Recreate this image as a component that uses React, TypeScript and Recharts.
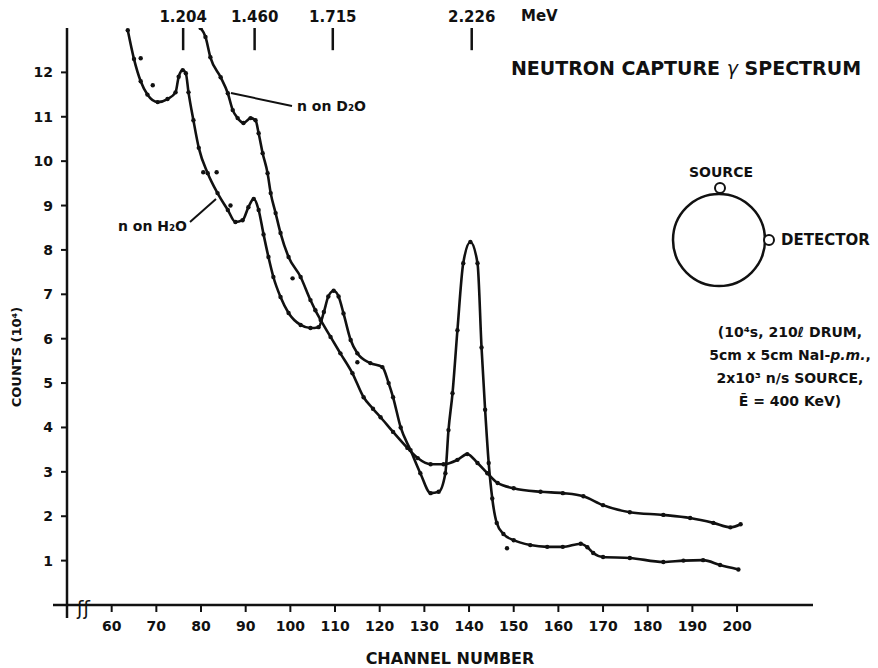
import React from "react";
import {
  ComposedChart,
  Line,
  Scatter,
  XAxis,
  YAxis,
  ReferenceLine,
  Customized,
} from "recharts";

// channel number / counts (x10^4)
const h2oChannel = [
  63.6, 65, 66.5, 68, 70.3, 72.5, 74.3, 75, 75.9, 76.6, 77.2, 78.3, 79.5, 81.5,
  83.7, 86, 87.7, 89.3, 90.6, 91.8, 92.9, 94, 95.1, 96.2, 97.8, 99.6, 102.3,
  104.5, 106.3, 107.5, 108.5, 109.7, 110.8, 111.9, 113.5, 115, 117.9, 120.6,
  122, 123, 124.7, 126.9, 129.1, 131.4, 133.2, 134.7, 135.4, 136.3, 137.4,
  138.7, 140.3, 141.9, 142.8, 143.6, 144.4, 145.2, 146.2, 147.7, 150, 153.7,
  157.5, 161, 165, 166.5, 167.8, 170, 176, 183.5, 188, 192.4, 196.2, 200.3,
];
const h2oCounts = [
  12.95, 12.3, 11.8, 11.5, 11.33, 11.4, 11.55, 11.9, 12.05, 11.98, 11.55, 10.92,
  10.3, 9.73, 9.28, 8.9, 8.63, 8.67, 8.96, 9.15, 8.9, 8.35, 7.84, 7.39, 6.94,
  6.58, 6.31, 6.24, 6.26, 6.6, 6.95, 7.08, 6.95, 6.57, 5.97, 5.67, 5.45, 5.36,
  5.0, 4.68, 4.0, 3.49, 2.97, 2.52, 2.55, 2.97, 3.94, 4.77, 6.19, 7.7, 8.18,
  7.7, 5.8, 4.4, 3.2, 2.4, 1.85, 1.6, 1.46, 1.35, 1.31, 1.31, 1.38, 1.3, 1.17,
  1.08, 1.06, 0.97, 1.0, 1.01, 0.9, 0.8,
];

const d2oChannel = [
  79.9, 81, 82.1, 84.4, 86, 87.1, 88.2, 89.5, 91.1, 92.2, 92.9, 93.8, 94.9,
  95.6, 96.7, 97.8, 99.6, 102.3, 104.5, 105.6, 106.8, 109, 111.2, 113.9, 116.4,
  118.5, 120.2, 123, 126.2, 128.5, 131.4, 134.3, 137.4, 139.6, 141.9, 144.1,
  146.4, 150, 156, 161, 165.6, 170, 176, 183.5, 189.5, 194.7, 198.5, 200.8,
];
const d2oCounts = [
  13.0, 12.8, 12.34, 11.89, 11.53, 11.15, 10.97, 10.86, 10.97, 10.92, 10.63,
  10.18, 9.73, 9.28, 8.83, 8.38, 7.84, 7.39, 6.87, 6.64, 6.42, 6.04, 5.67, 5.22,
  4.68, 4.42, 4.23, 3.9, 3.54, 3.31, 3.17, 3.17, 3.27, 3.4, 3.2, 2.97, 2.75,
  2.63, 2.55, 2.52, 2.45, 2.25, 2.09, 2.03, 1.96, 1.85, 1.75, 1.82,
];

// stray measured points lying off the drawn curves
const strayChannel = [66.5, 69.2, 80.5, 83.5, 86.6, 100.5, 115, 148.5];
const strayCounts = [12.32, 11.71, 9.75, 9.75, 9.0, 7.36, 5.47, 1.28];

const channelTicks = [60, 70, 80, 90, 100, 110, 120, 130, 140, 150, 160, 170, 180, 190, 200];
const countTicks = [1, 2, 3, 4, 5, 6, 7, 8, 9, 10, 11, 12];

const energyChannel = [76, 92, 109.5, 140.6];
const energyLabel = ["1.204", "1.460", "1.715", "2.226"];

const FONT = "DejaVu Sans";
const INK = "#111";

const h2oData = h2oChannel.map((ch, i) => ({ ch, counts: h2oCounts[i] }));
const d2oData = d2oChannel.map((ch, i) => ({ ch, counts: d2oCounts[i] }));
const strayData = strayChannel.map((ch, i) => ({ ch, counts: strayCounts[i] }));

const tickStyle = { fill: INK, fontSize: 14, fontWeight: 700, fontFamily: FONT };

const Annotations = () => (
  <g fontFamily={FONT} fontWeight={700} fill={INK}>
    {/* axis stubs past the origin and the break mark */}
    <line x1={53} y1={605} x2={67} y2={605} stroke={INK} strokeWidth={2.5} />
    <line x1={67} y1={605} x2={67} y2={618} stroke={INK} strokeWidth={2.5} />
    <text x={77} y={615} fontSize={19} fontWeight={400}>ʃʃ</text>

    <text x={521} y={21} fontSize={15}>MeV</text>

    <text x={686} y={75} fontSize={19} textAnchor="middle">
      NEUTRON CAPTURE <tspan fontStyle="italic" fontWeight={400}>γ</tspan> SPECTRUM
    </text>

    <line x1={231} y1={93} x2={292} y2={106} stroke={INK} strokeWidth={2} />
    <text x={297} y={111} fontSize={14}>n on D₂O</text>
    <line x1={190} y1={222} x2={216} y2={199} stroke={INK} strokeWidth={2} />
    <text x={187} y={231} fontSize={14} textAnchor="end">n on H₂O</text>

    <text x={721} y={177} fontSize={14} textAnchor="middle">SOURCE</text>
    <circle cx={719} cy={240} r={46} fill="none" stroke={INK} strokeWidth={2.5} />
    <circle cx={720} cy={188} r={5} fill="#fff" stroke={INK} strokeWidth={2} />
    <circle cx={769} cy={240} r={5} fill="#fff" stroke={INK} strokeWidth={2} />
    <text x={781} y={245} fontSize={15}>DETECTOR</text>

    <g fontSize={14} textAnchor="middle">
      <text x={790} y={337}>(10⁴s, 210ℓ DRUM,</text>
      <text x={790} y={360}>
        5cm x 5cm NaI-<tspan fontStyle="italic">p.m.</tspan>,
      </text>
      <text x={790} y={383}>2x10³ n/s SOURCE,</text>
      <text x={790} y={406}>Ē = 400 KeV)</text>
    </g>

    <text
      x={16}
      y={357}
      fontSize={13}
      textAnchor="middle"
      dominantBaseline="central"
      transform="rotate(-90, 16, 357)"
    >
      COUNTS (10⁴)
    </text>
    <text x={450} y={664} fontSize={16} textAnchor="middle">CHANNEL NUMBER</text>
  </g>
);

const App = () => {
  return (
    <div style={{ position: "absolute", left: 0, top: 0, width: 878, height: 668, background: "#fff" }}>
      <ComposedChart width={878} height={668} margin={{ top: 28, right: 65, bottom: 23, left: 10 }}>
        <XAxis
          type="number"
          dataKey="ch"
          domain={[50, 217]}
          ticks={channelTicks}
          allowDataOverflow
          height={40}
          tickSize={7}
          tickMargin={9}
          tick={tickStyle}
          axisLine={{ stroke: INK, strokeWidth: 2.5 }}
          tickLine={{ stroke: INK, strokeWidth: 2 }}
        />
        <YAxis
          type="number"
          domain={[0, 13]}
          ticks={countTicks}
          allowDataOverflow
          width={57}
          tickSize={6}
          tickMargin={8}
          tick={tickStyle}
          axisLine={{ stroke: INK, strokeWidth: 2.5 }}
          tickLine={{ stroke: INK, strokeWidth: 2 }}
        />

        {energyChannel.map((ch, i) => (
          <ReferenceLine
            key={energyLabel[i]}
            segment={[{ x: ch, y: 13 }, { x: ch, y: 12.5 }]}
            stroke={INK}
            strokeWidth={2.5}
            ifOverflow="visible"
            label={{
              value: energyLabel[i],
              position: "top",
              offset: 6,
              fill: INK,
              fontSize: 15,
              fontWeight: 700,
              fontFamily: FONT,
            }}
          />
        ))}

        <Line
          data={h2oData}
          dataKey="counts"
          name="n on H2O"
          type="monotone"
          stroke={INK}
          strokeWidth={2.6}
          dot={{ r: 2.2, fill: INK, stroke: "none" }}
          isAnimationActive={false}
        />
        <Line
          data={d2oData}
          dataKey="counts"
          name="n on D2O"
          type="monotone"
          stroke={INK}
          strokeWidth={2.6}
          dot={{ r: 2.2, fill: INK, stroke: "none" }}
          isAnimationActive={false}
        />
        <Scatter
          data={strayData}
          dataKey="counts"
          fill={INK}
          shape={(p: any) => <circle cx={p.cx} cy={p.cy} r={2.2} fill={INK} />}
          isAnimationActive={false}
        />

        <Customized component={Annotations} />
      </ComposedChart>
    </div>
  );
};

export default App;
